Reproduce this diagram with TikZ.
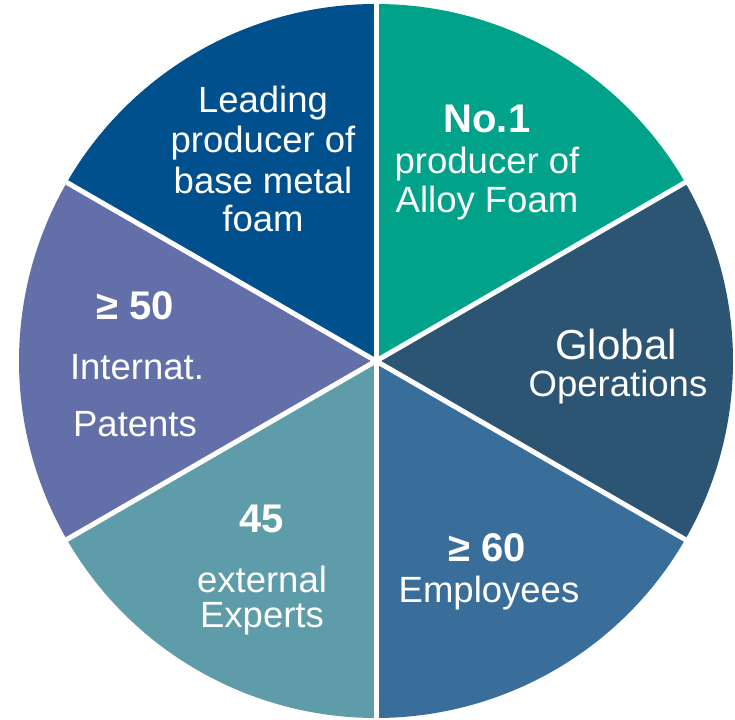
\documentclass[tikz,border=0pt]{standalone}
\usepackage{fontspec}
\setmainfont{Liberation Sans}
\usetikzlibrary{positioning}
\definecolor{navy}{HTML}{00508E}
\definecolor{alloy}{HTML}{00A389}
\definecolor{slate}{HTML}{2C5574}
\definecolor{steel}{HTML}{3A6E9A}
\definecolor{aqua}{HTML}{5F9CA9}
\definecolor{lilac}{HTML}{636FA8}

\begin{document}
\begin{tikzpicture}[x=1pt, y=1pt,
	txt/.style={text=white, anchor=base, inner sep=0pt, font=\fontsize{36.5}{40}\selectfont},
	big/.style={txt, font=\bfseries\fontsize{40}{44}\selectfont},
	sep/.style={white, line width=5pt}]
	\useasboundingbox (0,0) rectangle (735,719);
	\coordinate (c) at (376,358);
	\def\r{357}

	\foreach \a/\col in {30/alloy, -30/slate, -90/steel, 210/aqua, 150/lilac, 90/navy}
		\fill[\col] (c) -- ++(\a:\r) arc[start angle=\a, end angle=\a+60, radius=\r] -- cycle;
	\foreach \a in {90, 30, -30, -90, 210, 150}
		\draw[sep] (c) -- ++(\a:\r+3);

	\node[txt](lead1) at (263,606){Leading};
	\node[txt](lead2) at (263,566){producer of};
	\node[txt](lead3) at (263,525){base metal};
	\node[txt](lead4) at (263,487){foam};

	\node[big](no1) at (487,586){No.1};
	\node[txt](no2) at (487,545){producer of};
	\node[txt](no3) at (487,506){Alloy Foam};

	\node[txt, font=\fontsize{42}{46}\selectfont](glob1) at (616,359){Global};
	\node[txt](glob2) at (618,322){Operations};

	\node[big](emp1) at (487,157){≥ 60};
	\node[txt](emp2) at (489,116){Employees};

	\node[big](exp1) at (262,186){45};
	\node[txt](exp2) at (262,126){external};
	\node[txt](exp3) at (262,91){Experts};

	\node[big](pat1) at (135,399){≥ 50};
	\node[txt](pat2) at (137,339){Internat.};
	\node[txt](pat3) at (135,282){Patents};
\end{tikzpicture}
\end{document}
